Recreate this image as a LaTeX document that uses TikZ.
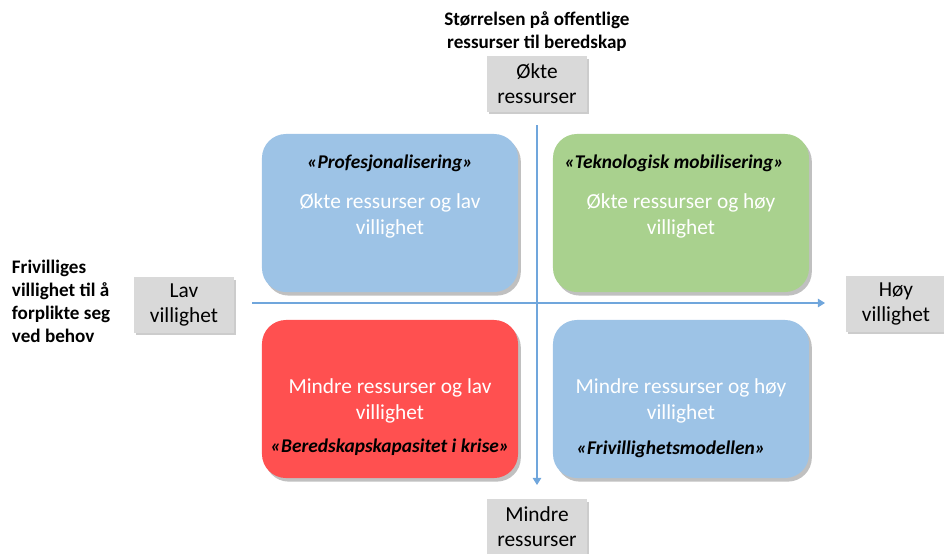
\documentclass[tikz,border=0pt]{standalone}
\usepackage{fontspec}
\setmainfont{Carlito}
\usepackage{xcolor}
\usetikzlibrary{positioning,shadows,arrows.meta}
\definecolor{qblue}{HTML}{9DC3E6}
\definecolor{qgreen}{HTML}{A9D18E}
\definecolor{qred}{HTML}{FF5050}
\definecolor{qgray}{HTML}{D9D9D9}
\definecolor{axisblue}{HTML}{70A6DC}

\tikzset{
  quad/.style={rounded corners=0.6cm, minimum width=6.4cm, minimum height=3.95cm,
    drop shadow={shadow xshift=0.07cm, shadow yshift=-0.09cm, fill=black!45, opacity=0.55}},
  body/.style={text=white, align=center, font=\fontsize{15.2}{18.6}\selectfont},
  qtitle/.style={font=\fontsize{13.8}{16}\selectfont\bfseries\itshape},
  tag/.style={fill=qgray, align=center, inner sep=0pt, minimum width=2.5cm, minimum height=1.38cm,
    font=\fontsize{15.2}{17.8}\selectfont,
    drop shadow={shadow xshift=0.05cm, shadow yshift=-0.06cm, fill=black!40, opacity=0.5}},
  head/.style={font=\fontsize{13.6}{16.4}\selectfont\bfseries},
  axis/.style={draw=axisblue, line width=0.8pt, -{Triangle[length=5pt,width=6pt]}}
}

\begin{document}
\begin{tikzpicture}[x=0.025cm,y=-0.025cm]
  \useasboundingbox (0,0) rectangle (944,553);
  % axes
  \coordinate (ytop) at (537,125);
  \coordinate (ybot) at (537,485);
  \coordinate (xleft) at (252,303);
  \coordinate (xright) at (825,303);
  \draw[axis] (ytop) -- (ybot);
  \draw[axis] (xleft) -- (xright);
  %
  \node[quad, fill=qblue] (pro) at (390,213) {};
  \node[quad, fill=qgreen] (tek) at (681,213) {};
  \node[quad, fill=qred] (ber) at (390,399) {};
  \node[quad, fill=qblue] (fri) at (681,399) {};
  %
  \node[qtitle] (proT) at ([yshift=-0.74cm]pro.north) {«Profesjonalisering»};
  \node[body] (proB) at ([yshift=-2.06cm]pro.north) {Økte ressurser og lav\\villighet};
  \node[qtitle] (tekT) at ([xshift=-0.17cm,yshift=-0.74cm]tek.north) {«Teknologisk mobilisering»};
  \node[body] (tekB) at ([yshift=-2.06cm]tek.north) {Økte ressurser og høy\\villighet};
  \node[body] (berB) at ([yshift=-2.03cm]ber.north) {Mindre ressurser og lav\\villighet};
  \node[qtitle] (berT) at ([yshift=-3.18cm]ber.north) {«Beredskapskapasitet i krise»};
  \node[body] (friB) at ([yshift=-2.03cm]fri.north) {Mindre ressurser og høy\\villighet};
  \node[qtitle] (friT) at ([xshift=-0.25cm,yshift=-3.25cm]fri.north) {«Frivillighetsmodellen»};
  %
  \node[tag] (okt) at (537,84) {Økte\\ressurser};
  \node[tag] (mindre) at (537,527) {Mindre\\ressurser};
  \node[tag] (lav) at (184,305) {Lav\\villighet};
  \node[tag] (hoy) at (896,304) {Høy\\villighet};
  %
  \node[head, align=center] (ytitle) at (537,32) {Størrelsen på offentlige\\ressurser til beredskap};
  \node[head, align=left, anchor=west] (xtitle) at (7,301) {Frivilliges\\villighet til å\\forplikte seg\\ved behov};
\end{tikzpicture}
\end{document}
